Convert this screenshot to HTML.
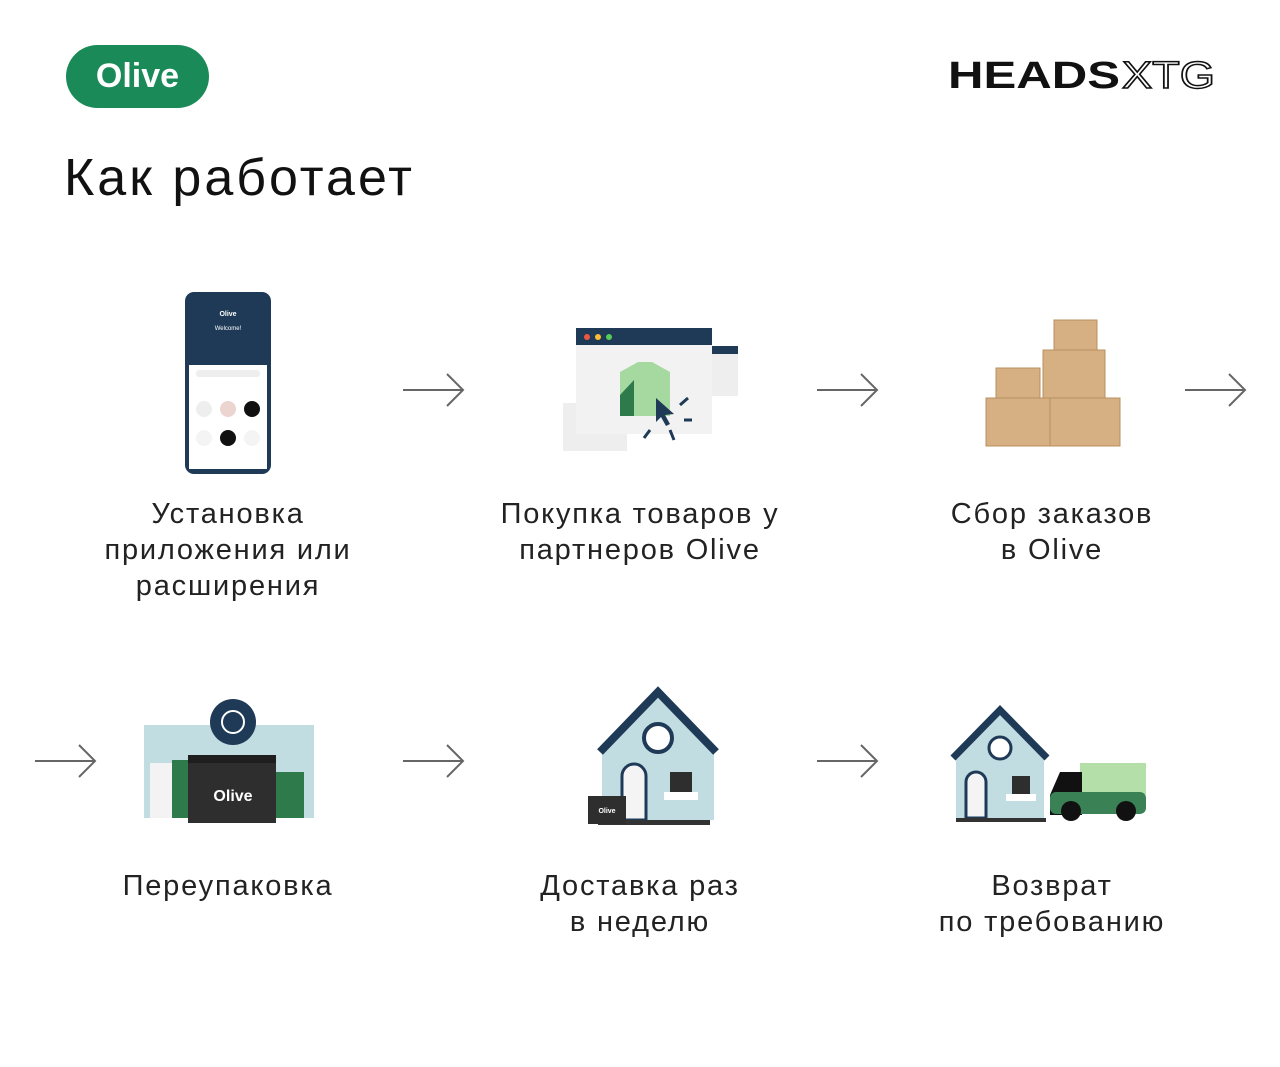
<!DOCTYPE html>
<html><head><meta charset="utf-8"><style>
body{margin:0;background:#fff;}
.wrap{position:relative;width:1280px;height:1067px;overflow:hidden;font-family:"Liberation Sans",sans-serif;}
.pill{position:absolute;left:66px;top:45px;width:143px;height:63px;border-radius:32px;background:#1a8a58;color:#fff;font-weight:bold;font-size:34px;line-height:63px;text-align:center;}
.title{position:absolute;left:64px;top:148px;font-size:52px;color:#111;letter-spacing:3px;}
.lbl{position:absolute;width:440px;text-align:center;font-size:29px;line-height:36px;color:#222;letter-spacing:1.8px;}
svg{position:absolute;left:0;top:0;}
</style></head><body><div class="wrap">
<div class="pill">Olive</div>
<div class="title">Как работает</div>
<div class="lbl" style="left:8px;top:496px">Установка<br>приложения или<br>расширения</div>
<div class="lbl" style="left:420px;top:496px">Покупка товаров у<br>партнеров Olive</div>
<div class="lbl" style="left:832px;top:496px">Сбор заказов<br>в Olive</div>
<div class="lbl" style="left:8px;top:868px">Переупаковка</div>
<div class="lbl" style="left:420px;top:868px">Доставка раз<br>в неделю</div>
<div class="lbl" style="left:832px;top:868px">Возврат<br>по требованию</div>
<svg width="1280" height="1067" viewBox="0 0 1280 1067">
<text x="948" y="88" font-family="Liberation Sans" font-weight="bold" font-size="38" textLength="172" lengthAdjust="spacingAndGlyphs" fill="#111">HEADS</text>
<text x="1122" y="88" font-family="Liberation Sans" font-size="38" textLength="93" lengthAdjust="spacingAndGlyphs" fill="none" stroke="#111" stroke-width="1.5">XTG</text>
<g stroke="#666" stroke-width="2" fill="none">
<path d="M403 390H463M447 374L463 390L447 406"/>
<path d="M817 390H877M861 374L877 390L861 406"/>
<path d="M1185 390H1245M1229 374L1245 390L1229 406"/>
<path d="M35 761H95M79 745L95 761L79 777"/>
<path d="M403 761H463M447 745L463 761L447 777"/>
<path d="M817 761H877M861 745L877 761L861 777"/>
</g>
<!-- phone -->
<rect x="185" y="292" width="86" height="182" rx="9" fill="#1e3a57"/>
<rect x="189" y="365" width="78" height="104" fill="#fff"/>
<text x="228" y="316" font-size="7" fill="#fff" text-anchor="middle" font-weight="bold">Olive</text>
<text x="228" y="330" font-size="6" fill="#fff" text-anchor="middle">Welcome!</text>
<rect x="196" y="370" width="64" height="7" rx="3" fill="#eee"/>
<circle cx="204" cy="409" r="8" fill="#eee"/><circle cx="228" cy="409" r="8" fill="#ecd5d0"/><circle cx="252" cy="409" r="8" fill="#111"/>
<circle cx="204" cy="438" r="8" fill="#f4f4f4"/><circle cx="228" cy="438" r="8" fill="#111"/><circle cx="252" cy="438" r="8" fill="#f4f4f4"/>
<!-- browser -->
<rect x="563" y="403" width="64" height="48" fill="#eee"/>
<rect x="700" y="346" width="38" height="50" fill="#eee"/><rect x="700" y="346" width="38" height="8" fill="#1e3a57"/>
<rect x="576" y="328" width="136" height="106" fill="#f2f2f2"/>
<rect x="576" y="328" width="136" height="17" fill="#1e3a57"/>
<circle cx="587" cy="337" r="3" fill="#e54"/><circle cx="598" cy="337" r="3" fill="#fb3"/><circle cx="609" cy="337" r="3" fill="#5c5"/>
<path d="M620 372L638 362H652L670 372V416H620Z" fill="#a6d9a0"/>
<path d="M620 395L634 380V416H620Z" fill="#2f7a4a"/>
<path d="M656 398L674 414L665 415L670 424L666 426L661 417L656 422Z" fill="#1e3a57"/>
<g stroke="#1e3a57" stroke-width="3"><path d="M680 405L688 398M684 420L692 420M670 430L674 440M650 430L644 438"/></g>
<!-- boxes -->
<g fill="#d6b083" stroke="#b8905f" stroke-width="1">
<rect x="1054" y="320" width="43" height="32"/>
<rect x="1043" y="350" width="62" height="50"/>
<rect x="996" y="368" width="44" height="32"/>
<rect x="986" y="398" width="64" height="48"/>
<rect x="1050" y="398" width="70" height="48"/>
</g>
<!-- repack -->
<rect x="144" y="725" width="170" height="93" fill="#c2dde1"/>
<rect x="150" y="763" width="30" height="55" fill="#f3f3f3"/>
<rect x="172" y="760" width="22" height="58" fill="#2f7a4a"/>
<rect x="274" y="772" width="30" height="46" fill="#2f7a4a"/>
<rect x="188" y="755" width="88" height="68" fill="#2e2e2e"/>
<rect x="188" y="755" width="88" height="8" fill="#1e1e1e"/>
<text x="233" y="801" font-size="16" font-weight="bold" fill="#fff" text-anchor="middle">Olive</text>
<circle cx="233" cy="722" r="23" fill="#1e3a57"/>
<circle cx="233" cy="722" r="11" fill="none" stroke="#fff" stroke-width="2"/>
<!-- house 1 -->
<path d="M602 752L658 696L714 752V820H602Z" fill="#c2dde1"/>
<path d="M600 752L658 692L716 752" fill="none" stroke="#1e3a57" stroke-width="8"/>
<circle cx="658" cy="738" r="14" fill="#fff" stroke="#1e3a57" stroke-width="4"/>
<path d="M622 820V776A12 12 0 0 1 646 776V820Z" fill="#f4f4f4" stroke="#1e3a57" stroke-width="3"/>
<rect x="670" y="772" width="22" height="20" fill="#2e2e2e"/>
<rect x="664" y="792" width="34" height="8" fill="#fff"/>
<rect x="598" y="820" width="112" height="5" fill="#333"/>
<rect x="588" y="796" width="38" height="28" fill="#2e2e2e"/>
<text x="607" y="813" font-size="7" font-weight="bold" fill="#fff" text-anchor="middle">Olive</text>
<!-- house 2 -->
<path d="M956 758L1000 714L1044 758V818H956Z" fill="#c2dde1"/>
<path d="M953 758L1000 710L1047 758" fill="none" stroke="#1e3a57" stroke-width="7"/>
<circle cx="1000" cy="748" r="11" fill="#fff" stroke="#1e3a57" stroke-width="3"/>
<path d="M966 818V782A10 10 0 0 1 986 782V818Z" fill="#f4f4f4" stroke="#1e3a57" stroke-width="3"/>
<rect x="1012" y="776" width="18" height="18" fill="#2e2e2e"/>
<rect x="1006" y="794" width="30" height="7" fill="#fff"/>
<rect x="956" y="818" width="90" height="4" fill="#333"/>
<rect x="1080" y="763" width="66" height="32" fill="#b5dfa9"/>
<path d="M1060 772H1082V815H1050V795Z" fill="#111"/>
<rect x="1050" y="792" width="96" height="22" rx="6" fill="#3a8256"/>
<circle cx="1071" cy="811" r="10" fill="#111"/><circle cx="1126" cy="811" r="10" fill="#111"/>
</svg>
</div></body></html>
